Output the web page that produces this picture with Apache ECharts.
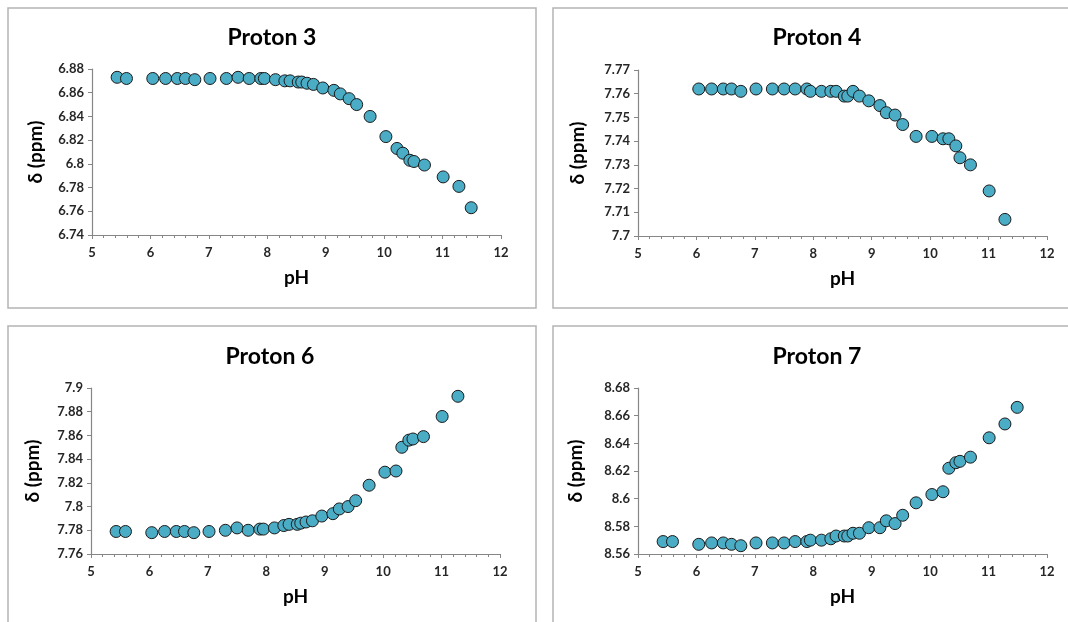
<!DOCTYPE html>
<html>
<head>
<meta charset="utf-8">
<script src="https://cdn.jsdelivr.net/npm/echarts@6/dist/echarts.min.js"></script>
<style>
html,body{margin:0;padding:0;background:#fff;}
#chart{width:1068px;height:622px;}
</style>
</head>
<body>
<div id="chart"></div>
<script>
// Shared pH values (35 measurements)
const pH = [5.43, 5.59, 6.04, 6.26, 6.46, 6.60, 6.76, 7.02, 7.30, 7.50, 7.69, 7.89, 7.95, 8.14, 8.30, 8.39, 8.53, 8.59, 8.68, 8.79, 8.95, 9.14, 9.25, 9.40, 9.53, 9.76, 10.03, 10.22, 10.32, 10.44, 10.51, 10.69, 11.01, 11.28, 11.49];

const titles = ['Proton 3', 'Proton 4', 'Proton 6', 'Proton 7'];

const proton3 = [6.873, 6.872, 6.872, 6.872, 6.872, 6.872, 6.871, 6.872, 6.872, 6.873, 6.872, 6.872, 6.872, 6.871, 6.870, 6.870, 6.869, 6.869, 6.868, 6.867, 6.864, 6.862, 6.859, 6.855, 6.850, 6.840, 6.823, 6.813, 6.809, 6.803, 6.802, 6.799, 6.789, 6.781, 6.763];
const proton4 = [null, null, 7.762, 7.762, 7.762, 7.762, 7.761, 7.762, 7.762, 7.762, 7.762, 7.762, 7.761, 7.761, 7.761, 7.761, 7.759, 7.759, 7.761, 7.759, 7.757, 7.755, 7.752, 7.751, 7.747, 7.742, 7.742, 7.741, 7.741, 7.738, 7.733, 7.730, 7.719, 7.707, null];
const proton6 = [7.779, 7.779, 7.778, 7.779, 7.779, 7.779, 7.778, 7.779, 7.780, 7.782, 7.780, 7.781, 7.781, 7.782, 7.784, 7.785, 7.785, 7.786, 7.787, 7.788, 7.792, 7.794, 7.798, 7.800, 7.805, 7.818, 7.829, 7.830, 7.850, 7.856, 7.857, 7.859, 7.876, 7.893, null];
const proton7 = [8.569, 8.569, 8.567, 8.568, 8.568, 8.567, 8.566, 8.568, 8.568, 8.568, 8.569, 8.569, 8.570, 8.570, 8.571, 8.573, 8.573, 8.573, 8.575, 8.575, 8.579, 8.579, 8.584, 8.582, 8.588, 8.597, 8.603, 8.605, 8.622, 8.626, 8.627, 8.630, 8.644, 8.654, 8.666];

// y-axis ranges: [min, max, interval]
const yRanges = [[6.74, 6.88, 0.02], [7.70, 7.77, 0.01], [7.76, 7.90, 0.02], [8.56, 8.68, 0.02]];
const xRange = [5, 12, 1];
const xName = 'pH';
const yName = 'δ (ppm)';

const seriesValues = [proton3, proton4, proton6, proton7];

// layout
const grids = [
  {left: 92, top: 69, width: 409, height: 166},
  {left: 638, top: 70, width: 409, height: 166},
  {left: 91, top: 388, width: 409, height: 166},
  {left: 638, top: 388, width: 409, height: 166}
];
const titlePos = [[267, 21], [812, 21], [265, 340], [812, 340]];
const yGaps = [47, 51, 49, 53];
const panels = [
  {x: 8, y: 8, w: 528, h: 300},
  {x: 553, y: 8, w: 530, h: 300},
  {x: 8, y: 326, w: 528, h: 310},
  {x: 553, y: 326, w: 530, h: 310}
];

const FONT = 'Lato, "Open Sans", sans-serif';
const labelColor = '#262626';

const option = {
  backgroundColor: '#fff',
  animation: false,
  title: titles.map((t, i) => ({
    text: t,
    left: titlePos[i][0],
    top: titlePos[i][1],
    textAlign: 'center',
    textStyle: {fontFamily: FONT, fontWeight: 'bold', fontSize: 23, color: '#000'}
  })),
  graphic: panels.map(p => ({
    type: 'rect',
    shape: {x: p.x, y: p.y, width: p.w, height: p.h},
    style: {fill: 'none', stroke: '#b4b4b4', lineWidth: 1.5},
    z: -1
  })),
  grid: grids.map(g => Object.assign({containLabel: false}, g)),
  xAxis: grids.map((g, i) => ({
    gridIndex: i,
    type: 'value',
    min: xRange[0], max: xRange[1], interval: xRange[2],
    name: xName,
    nameLocation: 'middle',
    nameGap: 33,
    nameTextStyle: {fontFamily: FONT, fontWeight: 'bold', fontSize: 19, color: '#000'},
    axisLine: {show: true, lineStyle: {color: '#868686', width: 1.2}},
    axisTick: {show: true, length: 4, lineStyle: {color: '#868686'}},
    minorTick: {show: true, splitNumber: 5, length: 3, lineStyle: {color: '#868686'}},
    splitLine: {show: false},
    axisLabel: {fontFamily: FONT, fontWeight: 'bold', fontSize: 13, color: labelColor, margin: 11}
  })),
  yAxis: grids.map((g, i) => ({
    gridIndex: i,
    type: 'value',
    min: yRanges[i][0], max: yRanges[i][1], interval: yRanges[i][2],
    name: yName,
    nameLocation: 'middle',
    nameGap: yGaps[i],
    nameRotate: 90,
    nameTextStyle: {fontFamily: FONT, fontWeight: 'bold', fontSize: 19, color: '#000'},
    axisLine: {show: true, lineStyle: {color: '#868686', width: 1.2}},
    axisTick: {show: true, length: 4, lineStyle: {color: '#868686'}},
    splitLine: {show: false},
    axisLabel: {fontFamily: FONT, fontWeight: 'bold', fontSize: 13, color: labelColor, margin: 8}
  })),
  series: seriesValues.map((vals, i) => ({
    type: 'scatter',
    xAxisIndex: i,
    yAxisIndex: i,
    symbol: 'circle',
    symbolSize: 12,
    itemStyle: {color: '#4BACC6', borderColor: '#1a1a1a', borderWidth: 1, opacity: 1},
    data: pH.map((x, k) => vals[k] == null ? null : [x, vals[k]]).filter(d => d)
  }))
};

const chart = echarts.init(document.getElementById('chart'), null, {renderer: 'canvas'});
chart.setOption(option);
</script>
</body>
</html>
